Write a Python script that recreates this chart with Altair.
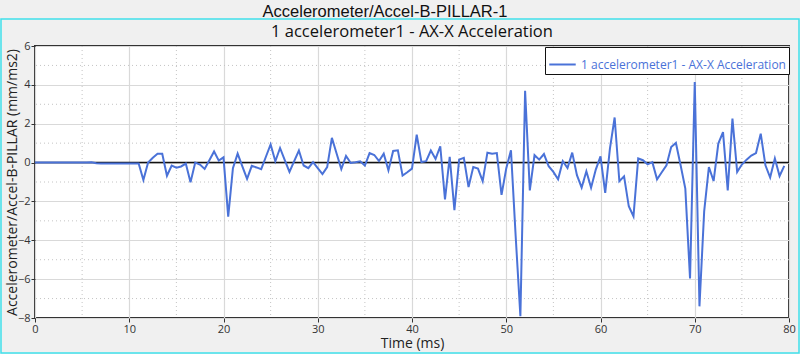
import altair as alt
import pandas as pd

main_title = "Accelerometer/Accel-B-PILLAR-1"
sub_title = "1 accelerometer1 - AX-X Acceleration"
series_name = "1 accelerometer1 - AX-X Acceleration"
x_title = "Time (ms)"
y_title = "Accelerometer/Accel-B-PILLAR (mm/ms2)"

time_ms = [
    0.0, 0.5, 1.0, 1.5, 2.0, 2.5, 3.0, 3.5, 4.0, 4.5,
    5.0, 5.5, 6.0, 6.5, 7.0, 7.5, 8.0, 8.5, 9.0, 9.5,
    10.0, 10.5, 11.0, 11.5, 12.0, 12.5, 13.0, 13.5, 14.0, 14.5,
    15.0, 15.5, 16.0, 16.5, 17.0, 17.5, 18.0, 18.5, 19.0, 19.5,
    20.0, 20.5, 21.0, 21.5, 22.0, 22.5, 23.0, 23.5, 24.0, 24.5,
    25.0, 25.5, 26.0, 26.5, 27.0, 27.5, 28.0, 28.5, 29.0, 29.5,
    30.0, 30.5, 31.0, 31.5, 32.0, 32.5, 33.0, 33.5, 34.0, 34.5,
    35.0, 35.5, 36.0, 36.5, 37.0, 37.5, 38.0, 38.5, 39.0, 39.5,
    40.0, 40.5, 41.0, 41.5, 42.0, 42.5, 43.0, 43.5, 44.0, 44.5,
    45.0, 45.5, 46.0, 46.5, 47.0, 47.5, 48.0, 48.5, 49.0, 49.5,
    50.0, 50.5, 51.0, 51.5, 52.0, 52.5, 53.0, 53.5, 54.0, 54.5,
    55.0, 55.5, 56.0, 56.5, 57.0, 57.5, 58.0, 58.5, 59.0, 59.5,
    60.0, 60.5, 61.0, 61.5, 62.0, 62.5, 63.0, 63.5, 64.0, 64.5,
    65.0, 65.5, 66.0, 66.5, 67.0, 67.5, 68.0, 68.5, 69.0, 69.5,
    70.0, 70.5, 71.0, 71.5, 72.0, 72.5, 73.0, 73.5, 74.0, 74.5,
    75.0, 75.5, 76.0, 76.5, 77.0, 77.5, 78.0, 78.5, 79.0, 79.5,
]

accel = [
    0.0, 0.0, 0.0, 0.0, 0.0, 0.0, 0.0, 0.0, 0.0, 0.0,
    0.0, 0.0, 0.01, -0.04, -0.05, -0.05, -0.05, -0.05, -0.05, -0.05,
    -0.05, -0.05, -0.05, -0.9, 0.0, 0.25, 0.45, 0.45, -0.68, -0.15,
    -0.26, -0.2, -0.05, -1.01, 0.0, -0.1, -0.33, 0.12, 0.57, 0.1,
    0.27, -2.78, -0.29, 0.46, -0.2, -0.84, -0.17, -0.25, -0.34, 0.3,
    0.93, 0.07, 0.75, 0.13, -0.48, 0.07, 0.62, -0.15, -0.29, 0.02,
    -0.28, -0.59, -0.23, 1.27, 0.47, -0.33, 0.34, -0.02, 0.02, 0.07,
    -0.15, 0.49, 0.39, 0.08, 0.46, -0.4, 0.6, 0.63, -0.67, -0.5,
    -0.31, 1.44, 0.03, 0.07, 0.62, 0.19, 0.84, -1.9, 0.29, -2.45,
    0.15, 0.24, -1.26, -0.23, -0.31, -0.96, 0.51, 0.46, 0.49, -1.66,
    -0.3, 0.63, -3.79, -7.91, 3.69, -1.43, 0.38, 0.15, 0.44, -0.19,
    -0.48, -0.86, 0.07, -0.28, 0.51, -0.65, -1.29, -0.45, -1.29, -0.36,
    0.32, -1.56, 0.72, 2.32, -0.96, -0.71, -2.25, -2.77, 0.21, 0.12,
    -0.09, 0.02, -0.86, -0.5, -0.14, 0.8, 1.01, -0.14, -1.34, -5.97,
    4.15, -7.4, -2.51, -0.23, -0.95, 0.98, 1.57, -1.43, 2.26, -0.48,
    -0.1, 0.15, 0.36, 0.49, 1.49, -0.14, -0.77, 0.21, -0.69, -0.17,
]

x_major = [0, 10, 20, 30, 40, 50, 60, 70, 80]
x_minor = [5, 15, 25, 35, 45, 55, 65, 75]
y_major = [-8, -6, -4, -2, 0, 2, 4, 6]
y_minor = [-7, -5, -3, -1, 1, 3, 5]
zero_line = [0]

W, H = 754, 272
LINE_COLOR = "#4a72d8"
FONT = "Open Sans"

df = pd.DataFrame({"t": time_ms, "a": accel, "series": [series_name] * len(time_ms)})

xs = alt.Scale(domain=[0, 80], nice=False, zero=False)
ys = alt.Scale(domain=[-8, 6], nice=False, zero=False)

x_axis = alt.Axis(values=x_major, grid=True, gridColor="#d9d9d9", gridWidth=1.2,
                  labelFontSize=11, labelColor="#333333", labelFont=FONT,
                  tickColor="#333333", tickSize=4, domain=False,
                  labelOverlap=False,
                  titleFontSize=14, titleFont=FONT, titleFontWeight="normal",
                  titleColor="#222222", titleY=25, titleBaseline="middle",
                  labelPadding=1, labelFlush=False)

y_axis = alt.Axis(values=y_major, grid=True, gridColor="#d9d9d9", gridWidth=1.2,
                  labelFontSize=11, labelColor="#333333", labelFont=FONT,
                  tickColor="#333333", tickSize=4, domain=False,
                  labelOverlap=False,
                  titleFontSize=14, titleFont=FONT, titleFontWeight="normal",
                  titleColor="#222222", titleX=-23, titleY=H / 2,
                  titleAngle=270, titleAlign="center", titleBaseline="middle",
                  labelPadding=1, labelFlush=False)

line = alt.Chart(df).mark_line(strokeWidth=2, clip=True).encode(
    x=alt.X("t:Q", scale=xs, title=x_title, axis=x_axis),
    y=alt.Y("a:Q", scale=ys, title=y_title, axis=y_axis),
    color=alt.Color(
        "series:N",
        scale=alt.Scale(domain=[series_name], range=[LINE_COLOR]),
        legend=alt.Legend(
            title=None, orient="none", legendX=510, legendY=1,
            fillColor="white", strokeColor="#111111", padding=3,
            symbolType="stroke", symbolSize=700, symbolStrokeWidth=2,
            labelFontSize=12, labelFont=FONT, labelColor=LINE_COLOR,
            cornerRadius=0, labelLimit=400
        ),
    ),
)

frame = alt.Chart(pd.DataFrame({"k": [0]})).mark_rect(
    fill=None, stroke="#3fe0ea", strokeWidth=1.5
).encode(
    x=alt.value(-34), x2=alt.value(764), y=alt.value(-27), y2=alt.value(307)
)

xminor = alt.Chart(pd.DataFrame({"v": x_minor})).mark_rule(
    color="#c4c4c4", strokeWidth=1, strokeDash=[1, 3]
).encode(x=alt.X("v:Q", scale=xs, title=x_title, axis=x_axis))

yminor = alt.Chart(pd.DataFrame({"v": y_minor})).mark_rule(
    color="#c4c4c4", strokeWidth=1, strokeDash=[1, 3]
).encode(y=alt.Y("v:Q", scale=ys, title=y_title, axis=y_axis))

zero = alt.Chart(pd.DataFrame({"v": zero_line})).mark_rule(
    color="#111111", strokeWidth=1.5
).encode(y=alt.Y("v:Q", scale=ys, title=y_title, axis=y_axis))

titles_df = pd.DataFrame({"txt": [main_title]})
top_title = alt.Chart(titles_df).mark_text(
    font="Liberation Sans", fontSize=16.5, color="#111111", baseline="middle", align="center"
).encode(text="txt:N", x=alt.value(350), y=alt.value(-34))

sub_df = pd.DataFrame({"txt": [sub_title]})
sub = alt.Chart(sub_df).mark_text(
    font=FONT, fontSize=16.5, color="#111111", baseline="middle", align="center"
).encode(text="txt:N", x=alt.value(377), y=alt.value(-14))

chart = alt.layer(frame, xminor, yminor, zero, line, top_title, sub).properties(
    width=W, height=H,
    autosize=alt.AutoSizeParams(type="none"),
    padding={"left": 35, "top": 46, "right": 11, "bottom": 36},
    background="#f0f0f0",
).configure_view(
    fill="white", stroke="#333333", strokeWidth=2
)

chart.save("out.html", embed_options={"renderer": "svg", "actions": False})
